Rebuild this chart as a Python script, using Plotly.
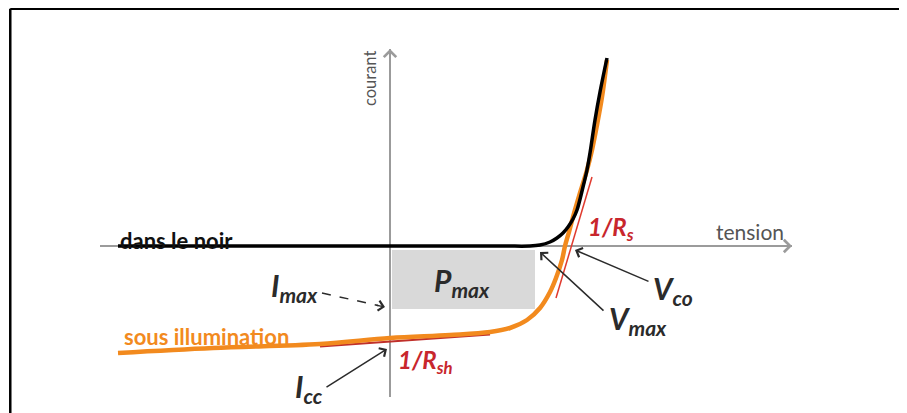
import plotly.graph_objects as go

# I-V characteristic of a solar cell (arbitrary units, origin at axis crossing)
dark_v = [-27.2, 11.0, 14.0, 15.0, 16.0, 16.7, 17.3, 17.8, 18.3, 18.7, 19.3, 19.7, 20.0, 20.5, 21.0, 21.7]
dark_i = [0.0, 0.0, 0.0, 0.1, 0.4, 0.8, 1.3, 1.9, 2.7, 3.6, 5.9, 7.6, 9.3, 12.6, 15.4, 18.8]

light_v = [-27.2, -17.7, -7.0, 0.0, 6.0, 10.0, 12.0, 13.7, 15.0, 16.0, 16.6, 17.2, 17.5,
           17.9, 18.3, 19.0, 19.7, 20.2, 20.7, 21.2, 21.7]
light_i = [-10.7, -10.2, -9.8, -9.2, -8.9, -8.6, -8.2, -7.4, -6.2, -4.6, -3.2, -1.4, 0.0,
           1.4, 2.9, 5.3, 7.6, 9.6, 12.1, 14.9, 18.6]

# tangents giving 1/Rsh and 1/Rs
rsh_v = [-7.0, 10.0]
rsh_i = [-10.05, -8.85]
rs_v = [16.6, 20.2]
rs_i = [-5.2, 6.9]

# characteristic points
v_max, i_max = 14.5, -6.3
v_co, i_cc = 17.5, -9.2

axis_x = [-29.0, 40.2]
axis_y = [-15.1, 19.7]

GREY = "#9b9b9b"
ORANGE = "#f28a1e"
RED = "#c8262d"
DARK = "#2b2b2b"
FONT = "Lato"

fig = go.Figure()

# Pmax area
fig.add_shape(type="rect", x0=0.2, x1=v_max, y0=-0.4, y1=i_max,
              fillcolor="#d9d9d9", line_width=0, layer="below")

# axes
fig.add_trace(go.Scatter(x=axis_x, y=[0, 0], mode="lines", line=dict(color=GREY, width=2)))
fig.add_trace(go.Scatter(x=[0, 0], y=axis_y, mode="lines", line=dict(color=GREY, width=2)))

# Rsh tangent sits mostly under the illuminated curve
fig.add_trace(go.Scatter(x=rsh_v, y=rsh_i, mode="lines", line=dict(color="#c0302a", width=2)))
fig.add_trace(go.Scatter(x=light_v, y=light_i, mode="lines", line=dict(color=ORANGE, width=4.5, shape="spline")))
fig.add_trace(go.Scatter(x=rs_v, y=rs_i, mode="lines", line=dict(color="#e03a2e", width=1.5)))
fig.add_trace(go.Scatter(x=dark_v, y=dark_i, mode="lines", line=dict(color="black", width=3.5, shape="spline")))

# dashed part of the Imax arrow
fig.add_trace(go.Scatter(x=[-6.8, -1.2], y=[-4.7, -5.95], mode="lines",
                         line=dict(color=DARK, width=1.5, dash="dash")))

ann = []
# axis arrow heads
ann.append(dict(x=axis_x[1], y=0, ax=axis_x[1] - 2, ay=0, axref="x", ayref="y", text="",
                showarrow=True, arrowhead=4, arrowsize=1.2, arrowwidth=2, arrowcolor=GREY))
ann.append(dict(x=0, y=axis_y[1], ax=0, ay=axis_y[1] - 2, axref="x", ayref="y", text="",
                showarrow=True, arrowhead=4, arrowsize=1.2, arrowwidth=2, arrowcolor=GREY))

# pointer arrows: (head_x, head_y, tail_x, tail_y)
arrows = [(-0.5, -6.1, -1.5, -5.9),
          (-0.3, -10.3, -6.5, -14.2),
          (18.5, -0.4, 26.0, -3.6),
          (15.0, -0.6, 21.5, -6.6)]
for hx, hy, tx, ty in arrows:
    ann.append(dict(x=hx, y=hy, ax=tx, ay=ty, axref="x", ayref="y", text="",
                    showarrow=True, arrowhead=4, arrowsize=1.3, arrowwidth=1.5, arrowcolor=DARK))

labels = [
    ("courant", -2.0, 16.7, 16.5, "#555555", -90),
    ("tension", 36.0, 1.5, 21, "#555555", 0),
    ("<b>dans le noir</b>", -21.4, 0.6, 22, "#111111", 0),
    ("<b>sous illumination</b>", -18.4, -9.0, 22, ORANGE, 0),
    ("<b><i>I</i></b><sub><b><i>max</i></b></sub>", -9.6, -4.1, 30, DARK, 0),
    ("<b><i>P</i></b><sub><b><i>max</i></b></sub>", 7.2, -3.6, 30, DARK, 0),
    ("<b><i>I</i></b><sub><b><i>cc</i></b></sub>", -8.1, -14.2, 30, DARK, 0),
    ("<b><i>1/R</i></b><sub><b><i>sh</i></b></sub>", 3.5, -11.5, 24, RED, 0),
    ("<b><i>1/R</i></b><sub><b><i>s</i></b></sub>", 22.1, 1.8, 24, RED, 0),
    ("<b><i>V</i></b><sub><b><i>co</i></b></sub>", 28.3, -4.4, 30, DARK, 0),
    ("<b><i>V</i></b><sub><b><i>max</i></b></sub>", 24.8, -7.4, 30, DARK, 0),
]
for txt, x, y, size, color, angle in labels:
    ann.append(dict(x=x, y=y, text=txt, showarrow=False, textangle=angle,
                    font=dict(family=FONT, size=size, color=color)))

# picture frame (left and top edges); page body adds an 8px offset
fig.add_shape(type="line", xref="paper", yref="paper", x0=0.0025, x1=0.0025, y0=0, y1=0.998,
              line=dict(color="black", width=2.5))
fig.add_shape(type="line", xref="paper", yref="paper", x0=0.0025, x1=1.0, y0=0.998, y1=0.998,
              line=dict(color="black", width=2.5))

fig.update_layout(
    width=907, height=413,
    margin=dict(l=0, r=0, t=0, b=0),
    paper_bgcolor="white", plot_bgcolor="white",
    showlegend=False,
    annotations=ann,
    xaxis=dict(range=[-38.2, 52.5], visible=False),
    yaxis=dict(range=[-17.5, 23.8], visible=False),
)

fig.write_html("out.html")
